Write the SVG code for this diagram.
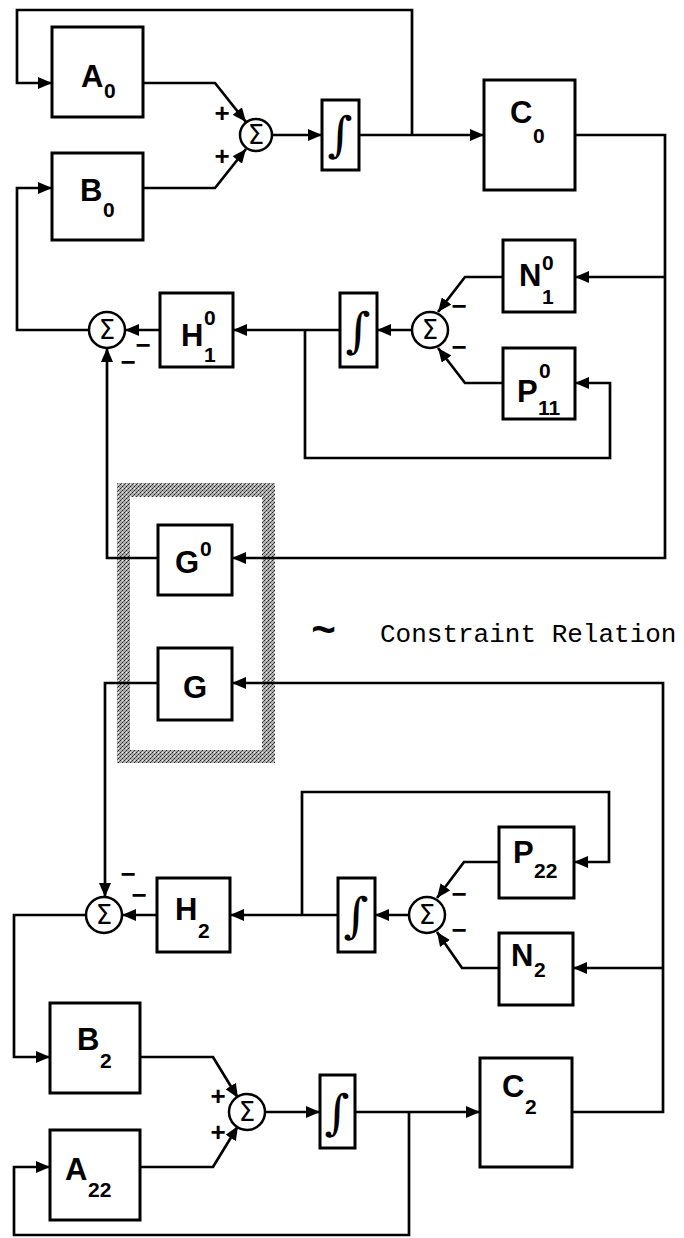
<svg xmlns="http://www.w3.org/2000/svg" width="684" height="1238" viewBox="0 0 684 1238">
<style>
.box{fill:#fff;stroke:#000;stroke-width:3}
.sum{fill:#fff;stroke:#000;stroke-width:2.5}
.ln{fill:none;stroke:#000;stroke-width:2.7;stroke-linejoin:miter}
.arr{marker-end:url(#ah)}
.lbl{font-family:"Liberation Sans",Arial,sans-serif;font-weight:bold;font-size:31px;fill:#000}
.sm{font-size:21px}
.sig{font-family:"DejaVu Sans","Liberation Sans",sans-serif;font-size:26px;fill:#000;text-anchor:middle}
.int{font-family:"DejaVu Serif","Liberation Serif",serif;font-size:48px;fill:#000;text-anchor:middle}
.sgn{font-family:"Liberation Sans",Arial,sans-serif;font-weight:bold;font-size:26px;fill:#000;text-anchor:middle}
.note{font-family:"Liberation Mono","Courier New",monospace;font-size:26px;fill:#000}
.tilde{font-family:"Liberation Mono","Courier New",monospace;font-weight:bold;font-size:42px}
</style>
<defs>
<marker id="ah" viewBox="0 0 14 12" refX="14" refY="6" markerWidth="14" markerHeight="12" markerUnits="userSpaceOnUse" orient="auto">
<path d="M0,0 L14,6 L0,12 z" fill="#000"/>
</marker>
<pattern id="hatch" width="4" height="4" patternUnits="userSpaceOnUse">
<rect width="4" height="4" fill="#b0b0b0"/>
<rect x="0" y="0" width="1" height="1" fill="#222"/>
<rect x="2" y="2" width="1" height="1" fill="#222"/>
<rect x="1" y="3" width="1" height="1" fill="#555"/>
<rect x="3" y="1" width="1" height="1" fill="#555"/>
<rect x="2" y="0" width="1" height="1" fill="#eee"/>
</pattern>
</defs>
<rect width="684" height="1238" fill="#fff"/>

<g id="constraint-frame">
<path d="M117,483 H275 V763 H117 Z M130,497 V750 H262 V497 Z" fill="url(#hatch)" fill-rule="evenodd"/>
</g>

<g id="connectors">
<path class="ln arr" d="M412,135 V10 H17 V83 H52"/>
<path class="ln arr" d="M143,83 H215 L246,122"/>
<path class="ln arr" d="M143,188 H215 L246,149"/>
<path class="ln arr" d="M272,135 H322"/>
<path class="ln arr" d="M359,135 H484"/>
<path class="ln arr" d="M575,135 H665 V558 H232"/>
<path class="ln arr" d="M665,277 H575"/>
<path class="ln arr" d="M503,277 H465 L438,312"/>
<path class="ln arr" d="M503,383 H465 L438,348"/>
<path class="ln arr" d="M412,330 H377"/>
<path class="ln arr" d="M340,330 H233"/>
<path class="ln arr" d="M305,330 V458 H610 V383 H575"/>
<path class="ln arr" d="M160,330 H125"/>
<path class="ln arr" d="M89,330 H17 V188 H52"/>
<path class="ln arr" d="M158,558 H107 V348"/>
<path class="ln arr" d="M572,1112 H663 V683 H232"/>
<path class="ln arr" d="M663,968 H573"/>
<path class="ln arr" d="M158,683 H105 V897"/>
<path class="ln arr" d="M157,915 H122"/>
<path class="ln arr" d="M86,915 H14 V1057 H50"/>
<path class="ln arr" d="M338,915 H230"/>
<path class="ln arr" d="M302,915 V792 H609 V862 H574"/>
<path class="ln arr" d="M499,862 H464 L437,898"/>
<path class="ln arr" d="M499,968 H462 L437,932"/>
<path class="ln arr" d="M409,915 H375"/>
<path class="ln arr" d="M140,1057 H213 L238,1098"/>
<path class="ln arr" d="M140,1167 H213 L238,1126"/>
<path class="ln arr" d="M266,1112 H320"/>
<path class="ln arr" d="M355,1112 H480"/>
<path class="ln arr" d="M409,1112 V1235 H14 V1167 H50"/>
</g>

<g id="A0"><rect class="box" x="52" y="27" width="91" height="90"/><text class="lbl"><tspan x="81" y="87">A</tspan><tspan class="sm" x="104" y="98">0</tspan></text></g>
<g id="B0"><rect class="box" x="52" y="153" width="91" height="87"/><text class="lbl"><tspan x="80" y="201">B</tspan><tspan class="sm" x="103" y="217">0</tspan></text></g>
<g id="sum1"><circle class="sum" cx="256" cy="135" r="16"/><text class="sig" x="256" y="144">Σ</text><text class="sgn" x="222" y="122">+</text><text class="sgn" x="222" y="165">+</text></g>
<g id="int1"><rect class="box" x="322" y="100" width="37" height="70"/><text class="int" x="340" y="151">∫</text></g>
<g id="C0"><rect class="box" x="484" y="80" width="91" height="110"/><text class="lbl"><tspan x="510" y="123">C</tspan><tspan class="sm" x="533" y="143">0</tspan></text></g>

<g id="N10"><rect class="box" x="503" y="240" width="72" height="72"/><text class="lbl"><tspan x="519" y="286">N</tspan><tspan class="sm" x="542" y="270">0</tspan><tspan class="sm" x="542" y="304">1</tspan></text></g>
<g id="P110"><rect class="box" x="503" y="348" width="72" height="71"/><text class="lbl"><tspan x="517" y="402">P</tspan><tspan class="sm" x="539" y="378">0</tspan><tspan class="sm" x="538" y="415">11</tspan></text></g>
<g id="sum2"><circle class="sum" cx="430" cy="330" r="18"/><text class="sig" x="430" y="339">Σ</text><text class="sgn" x="459" y="315">−</text><text class="sgn" x="459" y="356">−</text></g>
<g id="int2"><rect class="box" x="340" y="293" width="37" height="74"/><text class="int" x="358" y="347">∫</text></g>
<g id="H10"><rect class="box" x="160" y="293" width="73" height="74"/><text class="lbl"><tspan x="181" y="346">H</tspan><tspan class="sm" x="204" y="325">0</tspan><tspan class="sm" x="204" y="362">1</tspan></text></g>
<g id="sum3"><circle class="sum" cx="107" cy="330" r="18"/><text class="sig" x="107" y="339">Σ</text><text class="sgn" x="143" y="354">−</text><text class="sgn" x="128" y="371">−</text></g>

<g id="G0"><rect class="box" x="158" y="525" width="74" height="70"/><text class="lbl"><tspan x="175" y="573">G</tspan><tspan class="sm" x="200" y="556">0</tspan></text></g>
<g id="G"><rect class="box" x="158" y="648" width="74" height="72"/><text class="lbl"><tspan x="183" y="698">G</tspan></text></g>
<g id="note"><text class="note"><tspan class="tilde" x="311" y="644">~</tspan><tspan x="380" y="642">Constraint Relation</tspan></text></g>

<g id="P22"><rect class="box" x="499" y="827" width="75" height="71"/><text class="lbl"><tspan x="513" y="863">P</tspan><tspan class="sm" x="534" y="878">22</tspan></text></g>
<g id="sum4"><circle class="sum" cx="427" cy="915" r="18"/><text class="sig" x="427" y="924">Σ</text><text class="sgn" x="459" y="903">−</text><text class="sgn" x="459" y="939">−</text></g>
<g id="int3"><rect class="box" x="338" y="878" width="37" height="74"/><text class="int" x="356" y="932">∫</text></g>
<g id="N2"><rect class="box" x="499" y="933" width="74" height="72"/><text class="lbl"><tspan x="511" y="966">N</tspan><tspan class="sm" x="534" y="977">2</tspan></text></g>
<g id="H2"><rect class="box" x="157" y="878" width="73" height="74"/><text class="lbl"><tspan x="175" y="920">H</tspan><tspan class="sm" x="198" y="938">2</tspan></text></g>
<g id="sum5"><circle class="sum" cx="104" cy="915" r="18"/><text class="sig" x="104" y="924">Σ</text><text class="sgn" x="128" y="883">−</text><text class="sgn" x="139" y="904">−</text></g>

<g id="B2"><rect class="box" x="50" y="1003" width="90" height="90"/><text class="lbl"><tspan x="77" y="1050">B</tspan><tspan class="sm" x="100" y="1068">2</tspan></text></g>
<g id="A22"><rect class="box" x="50" y="1130" width="90" height="90"/><text class="lbl"><tspan x="65" y="1180">A</tspan><tspan class="sm" x="88" y="1197">22</tspan></text></g>
<g id="sum6"><circle class="sum" cx="247" cy="1112" r="18"/><text class="sig" x="247" y="1121">Σ</text><text class="sgn" x="218" y="1105">+</text><text class="sgn" x="218" y="1141">+</text></g>
<g id="int4"><rect class="box" x="320" y="1075" width="35" height="73"/><text class="int" x="337" y="1129">∫</text></g>
<g id="C2"><rect class="box" x="480" y="1058" width="92" height="109"/><text class="lbl"><tspan x="502" y="1097">C</tspan><tspan class="sm" x="525" y="1114">2</tspan></text></g>
</svg>
